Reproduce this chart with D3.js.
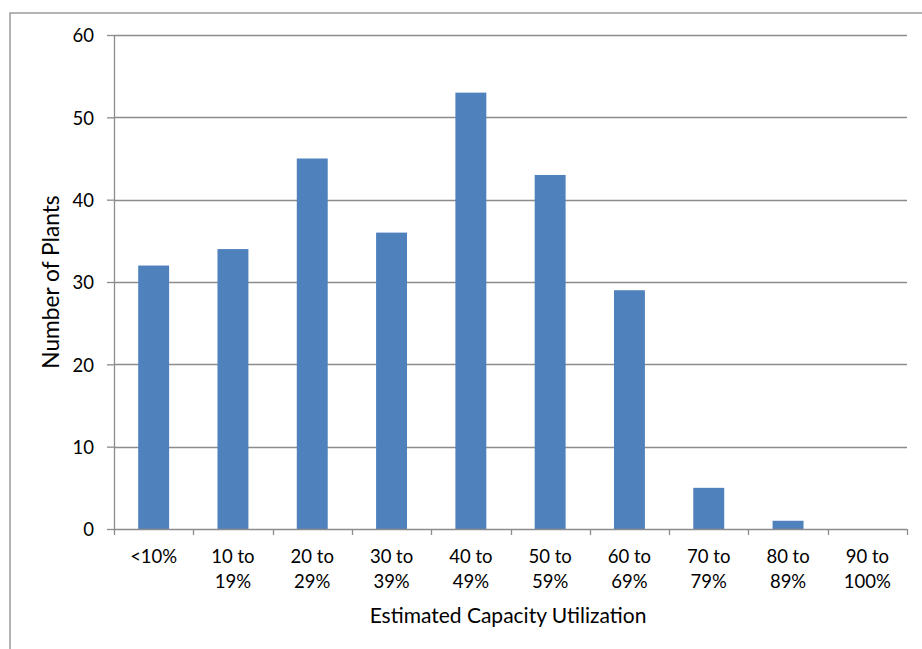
<!DOCTYPE html>
<html>
<head>
<meta charset="utf-8">
<script src="https://cdn.jsdelivr.net/npm/d3@7"></script>
<style>
  html, body { margin: 0; padding: 0; background: #fff; overflow: hidden; }
  svg { display: block; }
  text { font-family: Lato, "Open Sans", sans-serif; fill: #000; }
</style>
</head>
<body>
<svg id="chart" width="922" height="649"></svg>
<script>
// Capacity utilization bands and the number of plants in each
const categories = ["<10%", "10 to 19%", "20 to 29%", "30 to 39%", "40 to 49%",
                    "50 to 59%", "60 to 69%", "70 to 79%", "80 to 89%", "90 to 100%"];
const plantCounts = [32, 34, 45, 36, 53, 43, 29, 5, 1, 0];
const yTicks = [0, 10, 20, 30, 40, 50, 60];
const xTitle = "Estimated Capacity Utilization";
const yTitle = "Number of Plants";

const svg = d3.select("#chart");
const margin = { left: 114, top: 35 };
const innerW = 907 - margin.left, innerH = 529 - margin.top;
const gray = "#8c8c8c";

// outer frame of the chart object (runs past the right and bottom edges)
svg.append("rect")
  .attr("x", 10).attr("y", 13)
  .attr("width", 940).attr("height", 660)
  .attr("fill", "none").attr("stroke", gray).attr("stroke-width", 1.3);

const g = svg.append("g").attr("transform", `translate(${margin.left},${margin.top})`);

const x = d3.scaleBand().domain(categories).range([0, innerW]).paddingInner(0.61).paddingOuter(0.305);
const xTickScale = d3.scaleLinear().domain([0, categories.length]).range([0, innerW]);
const y = d3.scaleLinear().domain([0, 60]).range([innerH, 0]);

// horizontal gridlines
g.append("g").selectAll("line").data(yTicks.filter(d => d > 0)).join("line")
  .attr("x1", 0).attr("x2", innerW)
  .attr("y1", d => Math.round(y(d)) + 0.5).attr("y2", d => Math.round(y(d)) + 0.5)
  .attr("stroke", gray).attr("stroke-width", 1.3);

// bars
g.append("g").selectAll("rect").data(plantCounts).join("rect")
  .attr("x", (d, i) => x(categories[i]))
  .attr("width", x.bandwidth())
  .attr("y", d => y(d))
  .attr("height", d => innerH - y(d))
  .attr("fill", "#4f81bd");

// y axis
const yAxis = d3.axisLeft(y).tickValues(yTicks).tickSize(7).tickPadding(13);
const yg = g.append("g").call(yAxis);
yg.select(".domain").attr("stroke", gray).attr("stroke-width", 1.3).attr("d", `M0.5,0V${innerH}`);
yg.selectAll(".tick line").attr("stroke", gray).attr("stroke-width", 1.3);
yg.selectAll(".tick text").style("font-size", "18.5px").style("font-family", "Lato, sans-serif").attr("dy", "0.36em");

// x axis: ticks sit at category boundaries
const xg = g.append("g").attr("transform", `translate(0,${innerH})`);
xg.append("line").attr("x1", 0).attr("x2", innerW).attr("y1", 0.5).attr("y2", 0.5)
  .attr("stroke", gray).attr("stroke-width", 1.3);
xg.selectAll("line.tk").data(d3.range(categories.length + 1)).join("line")
  .attr("class", "tk")
  .attr("x1", d => Math.round(xTickScale(d)) + 0.5).attr("x2", d => Math.round(xTickScale(d)) + 0.5)
  .attr("y1", 0).attr("y2", 6)
  .attr("stroke", gray).attr("stroke-width", 1.3);

// category labels, split onto two lines after "to"
const labels = xg.selectAll("text.cat").data(categories).join("text")
  .attr("class", "cat")
  .attr("text-anchor", "middle")
  .style("font-size", "18.5px")
  .attr("transform", d => `translate(${x(d) + x.bandwidth() / 2},0)`);
labels.each(function(d) {
  const m = d.match(/^(.* to) (.*)$/);
  const lines = m ? [m[1], m[2]] : [d];
  d3.select(this).selectAll("tspan").data(lines).join("tspan")
    .attr("x", 0).attr("y", (l, i) => 34 + i * 25).text(l => l);
});

// axis titles
svg.append("text")
  .attr("x", 508).attr("y", 623)
  .attr("text-anchor", "middle")
  .style("font-size", "21px")
  .text(xTitle);

svg.append("text")
  .attr("transform", `translate(59,${margin.top + innerH / 2}) rotate(-90)`)
  .attr("text-anchor", "middle")
  .style("font-size", "22.7px")
  .text(yTitle);
</script>
</body>
</html>
